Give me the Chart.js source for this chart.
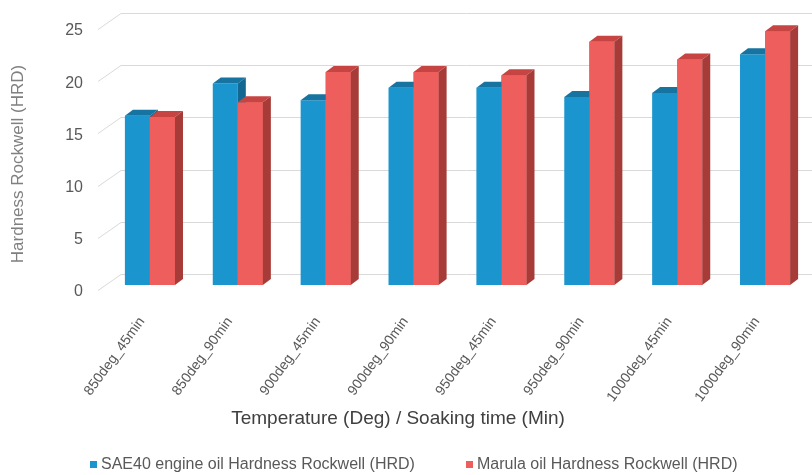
<!DOCTYPE html>
<html>
<head>
<meta charset="utf-8">
<script src="https://cdn.jsdelivr.net/npm/chart.js@4.4.1/dist/chart.umd.min.js"></script>
<style>
  html, body { margin: 0; padding: 0; background: #ffffff; }
  #wrap { width: 812px; height: 475px; position: relative; }
</style>
</head>
<body>
<div id="wrap"><canvas id="chart" width="812" height="475"></canvas></div>
<script>
// Hardness results per heat-treatment condition
const categories = ['850deg_45min', '850deg_90min', '900deg_45min', '900deg_90min',
                    '950deg_45min', '950deg_90min', '1000deg_45min', '1000deg_90min'];
const sae40Hardness  = [16.2, 19.3, 17.7, 18.9, 18.9, 18.0, 18.4, 22.1];
const marulaHardness = [16.1, 17.5, 20.4, 20.4, 20.1, 23.3, 21.6, 24.3];
const seriesNames = ['SAE40 engine oil Hardness Rockwell (HRD)', 'Marula oil Hardness Rockwell (HRD)'];
const yMin = 0, yMax = 25, yStep = 5;
const xTitle = 'Temperature (Deg) / Soaking time (Min)';
const yTitle = 'Hardness Rockwell (HRD)';

// Shading for the three visible faces of each column
const faces = [
  { front: '#1b95cd', top: '#17739f', side: '#136892' },
  { front: '#ee5e5c', top: '#c64542', side: '#a63b38' }
];
const DEPTH_X = 8, DEPTH_Y = 6;            // column depth
const WALL_IN = 15, WALL_UP = 11;          // back wall offset from column base plane
const FLOOR_OUT = 8, FLOOR_DOWN = 5;       // front edge of floor / side wall

// Back-wall gridlines with the slanted side-wall segment
const backWall = {
  id: 'backWall',
  beforeDatasetsDraw(chart) {
    const { ctx, chartArea, scales: { y } } = chart;
    ctx.save();
    ctx.strokeStyle = '#d9d9d9';
    ctx.lineWidth = 1;
    y.ticks.forEach(t => {
      const py = Math.round(y.getPixelForValue(t.value)) + 0.5;
      ctx.beginPath();
      ctx.moveTo(chartArea.left - FLOOR_OUT, py + FLOOR_DOWN);
      ctx.lineTo(chartArea.left + WALL_IN, py - WALL_UP);
      ctx.lineTo(chart.width, py - WALL_UP);
      ctx.stroke();
    });
    ctx.restore();
  }
};

function drawFaces(ctx, bar, f) {
  const { x, y, base, width } = bar.getProps(['x', 'y', 'base', 'width'], true);
  const l = x - width / 2, r = x + width / 2;
  ctx.fillStyle = f.top;
  ctx.beginPath();
  ctx.moveTo(l, y); ctx.lineTo(r, y);
  ctx.lineTo(r + DEPTH_X, y - DEPTH_Y); ctx.lineTo(l + DEPTH_X, y - DEPTH_Y);
  ctx.closePath(); ctx.fill();
  ctx.fillStyle = f.side;
  ctx.beginPath();
  ctx.moveTo(r, y); ctx.lineTo(r + DEPTH_X, y - DEPTH_Y);
  ctx.lineTo(r + DEPTH_X, base - DEPTH_Y); ctx.lineTo(r, base);
  ctx.closePath(); ctx.fill();
}

// Columns are painted left to right within each group so the right-hand
// column hides the side face of its neighbour
const columns3d = {
  id: 'columns3d',
  afterDatasetsDraw(chart) {
    const { ctx } = chart;
    const metas = chart.data.datasets.map((_, i) => chart.getDatasetMeta(i));
    ctx.save();
    categories.forEach((_, c) => {
      metas.forEach((meta, d) => {
        const bar = meta.data[c];
        if (!bar) return;
        if (d > 0) bar.draw(ctx);
        drawFaces(ctx, bar, faces[d]);
      });
    });
    ctx.restore();
  }
};

// Axis titles and legend row
const captions = {
  id: 'captions',
  afterDraw(chart) {
    const { ctx } = chart;
    ctx.save();
    ctx.fillStyle = '#808080';
    ctx.font = '17px "Liberation Sans", Arial, sans-serif';
    ctx.textAlign = 'center';
    ctx.textBaseline = 'middle';
    ctx.translate(18, 164);
    ctx.rotate(-Math.PI / 2);
    ctx.fillText(yTitle, 0, 0);
    ctx.restore();

    ctx.save();
    ctx.fillStyle = '#404040';
    ctx.font = '19px "Liberation Sans", Arial, sans-serif';
    ctx.textAlign = 'center';
    ctx.textBaseline = 'middle';
    ctx.fillText(xTitle, 398, 419);
    ctx.restore();

    const legendX = [90, 466];
    ctx.save();
    ctx.font = '16px "Liberation Sans", Arial, sans-serif';
    ctx.textBaseline = 'middle';
    ctx.textAlign = 'left';
    chart.data.datasets.forEach((ds, i) => {
      ctx.fillStyle = ds.backgroundColor;
      ctx.fillRect(legendX[i], 461, 7, 7);
      ctx.fillStyle = '#595959';
      ctx.fillText(ds.label, legendX[i] + 11, 465);
    });
    ctx.restore();
  }
};

new Chart(document.getElementById('chart'), {
  type: 'bar',
  data: {
    labels: categories,
    datasets: [
      { label: seriesNames[0], data: sae40Hardness, backgroundColor: faces[0].front,
        barPercentage: 1, categoryPercentage: 0.57 },
      { label: seriesNames[1], data: marulaHardness, backgroundColor: faces[1].front,
        barPercentage: 1, categoryPercentage: 0.57 }
    ]
  },
  options: {
    responsive: false,
    animation: false,
    devicePixelRatio: 1,
    layout: { padding: { top: 24, right: 3, left: 0, bottom: 0 } },
    plugins: { legend: { display: false }, tooltip: { enabled: false } },
    scales: {
      x: {
        grid: { display: false, drawTicks: false },
        border: { display: false },
        ticks: {
          autoSkip: false, minRotation: 54, maxRotation: 54,
          padding: 29, labelOffset: -8,
          color: '#595959',
          font: { family: '"Liberation Sans", Arial, sans-serif', size: 14 }
        },
        afterFit(s) { s.height = 190; s.paddingLeft = 0; s.paddingRight = 0; }
      },
      y: {
        min: yMin, max: yMax,
        grid: { display: false, drawTicks: false },
        border: { display: false },
        ticks: {
          stepSize: yStep, padding: 23, labelOffset: 7,
          color: '#595959',
          font: { family: '"Liberation Sans", Arial, sans-serif', size: 16 }
        },
        afterFit(s) { s.width = 106; s.paddingTop = 0; s.paddingBottom = 0; }
      }
    }
  },
  plugins: [backWall, columns3d, captions]
});
</script>
</body>
</html>
